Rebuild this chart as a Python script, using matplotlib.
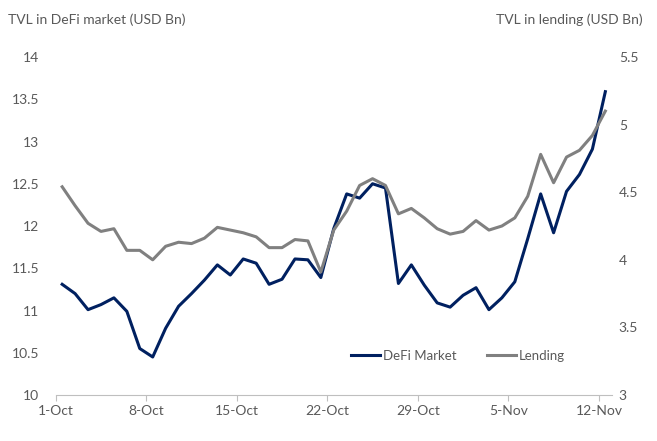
import numpy as np
import pandas as pd
import matplotlib
matplotlib.use("Agg")
import matplotlib.pyplot as plt
import matplotlib.dates as mdates

plt.rcParams['font.family'] = ['Lato', 'DejaVu Sans']

# daily values, 1-Oct to 12-Nov
dates = pd.date_range("2020-10-01 12:00", periods=43, freq="D")

defi = [11.31, 11.20, 11.01, 11.07, 11.15, 10.99, 10.55, 10.45, 10.79, 11.05,
        11.20, 11.36, 11.54, 11.42, 11.61, 11.56, 11.31, 11.37, 11.61, 11.60,
        11.39, 11.97, 12.38, 12.33, 12.50, 12.45, 11.32, 11.54, 11.30, 11.09,
        11.04, 11.18, 11.27, 11.01, 11.15, 11.34, 11.85, 12.38, 11.92, 12.41,
        12.61, 12.91, 13.59]

lending = [4.54, 4.40, 4.27, 4.21, 4.23, 4.07, 4.07, 4.00, 4.10, 4.13,
           4.12, 4.16, 4.24, 4.22, 4.20, 4.17, 4.09, 4.09, 4.15, 4.14,
           3.91, 4.22, 4.36, 4.55, 4.60, 4.55, 4.34, 4.38, 4.31, 4.23,
           4.19, 4.21, 4.29, 4.22, 4.25, 4.31, 4.47, 4.78, 4.57, 4.76,
           4.81, 4.92, 5.10]

navy = "#002060"
grey = "#808080"
txt = "#595959"

fig = plt.figure(figsize=(6.57, 4.41), dpi=100)
ax = fig.add_axes([0.0848, 0.1043, 0.8464, 0.7664])
ax2 = ax.twinx()

l1, = ax.plot(dates, defi, color=navy, lw=2.2, label="DeFi Market")
l2, = ax2.plot(dates, lending, color=grey, lw=2.2, label="Lending")

ax.set_ylim(10, 14)
ax2.set_ylim(3, 5.5)
ax.set_yticks(np.arange(10, 14.01, 0.5))
ax.set_yticklabels(["10", "10.5", "11", "11.5", "12", "12.5", "13", "13.5", "14"])
ax2.set_yticks(np.arange(3, 5.51, 0.5))
ax2.set_yticklabels(["3", "3.5", "4", "4.5", "5", "5.5"])

start = pd.Timestamp("2020-10-01")
ax.set_xlim(start, start + pd.Timedelta(days=43))
ax.set_xticks(pd.date_range(start, periods=7, freq="7D"))
ax.xaxis.set_major_formatter(mdates.DateFormatter("%-d-%b"))

for a in (ax, ax2):
    for s in a.spines.values():
        s.set_visible(False)
ax.spines['bottom'].set_visible(True)
ax.spines['bottom'].set_color("#bfbfbf")

ax.tick_params(axis='y', length=0, pad=12, labelsize=10, labelcolor=txt)
ax2.tick_params(axis='y', length=0, pad=5, labelsize=10, labelcolor=txt)
ax.tick_params(axis='x', length=4, color="#bfbfbf", pad=3, labelsize=10, labelcolor=txt)

fig.text(0.012, 0.97, "TVL in DeFi market (USD Bn)", fontsize=10, color=txt,
         ha='left', va='top')
fig.text(0.978, 0.97, "TVL in lending (USD Bn)", fontsize=10, color=txt,
         ha='right', va='top')

fig.legend(handles=[l1, l2], loc='center', bbox_to_anchor=(0.697, 0.193),
           ncol=2, frameon=False, fontsize=9.5, labelcolor=txt,
           handlelength=2.2, handletextpad=0.2, columnspacing=2.3)

fig.savefig("out.png", dpi=100)
